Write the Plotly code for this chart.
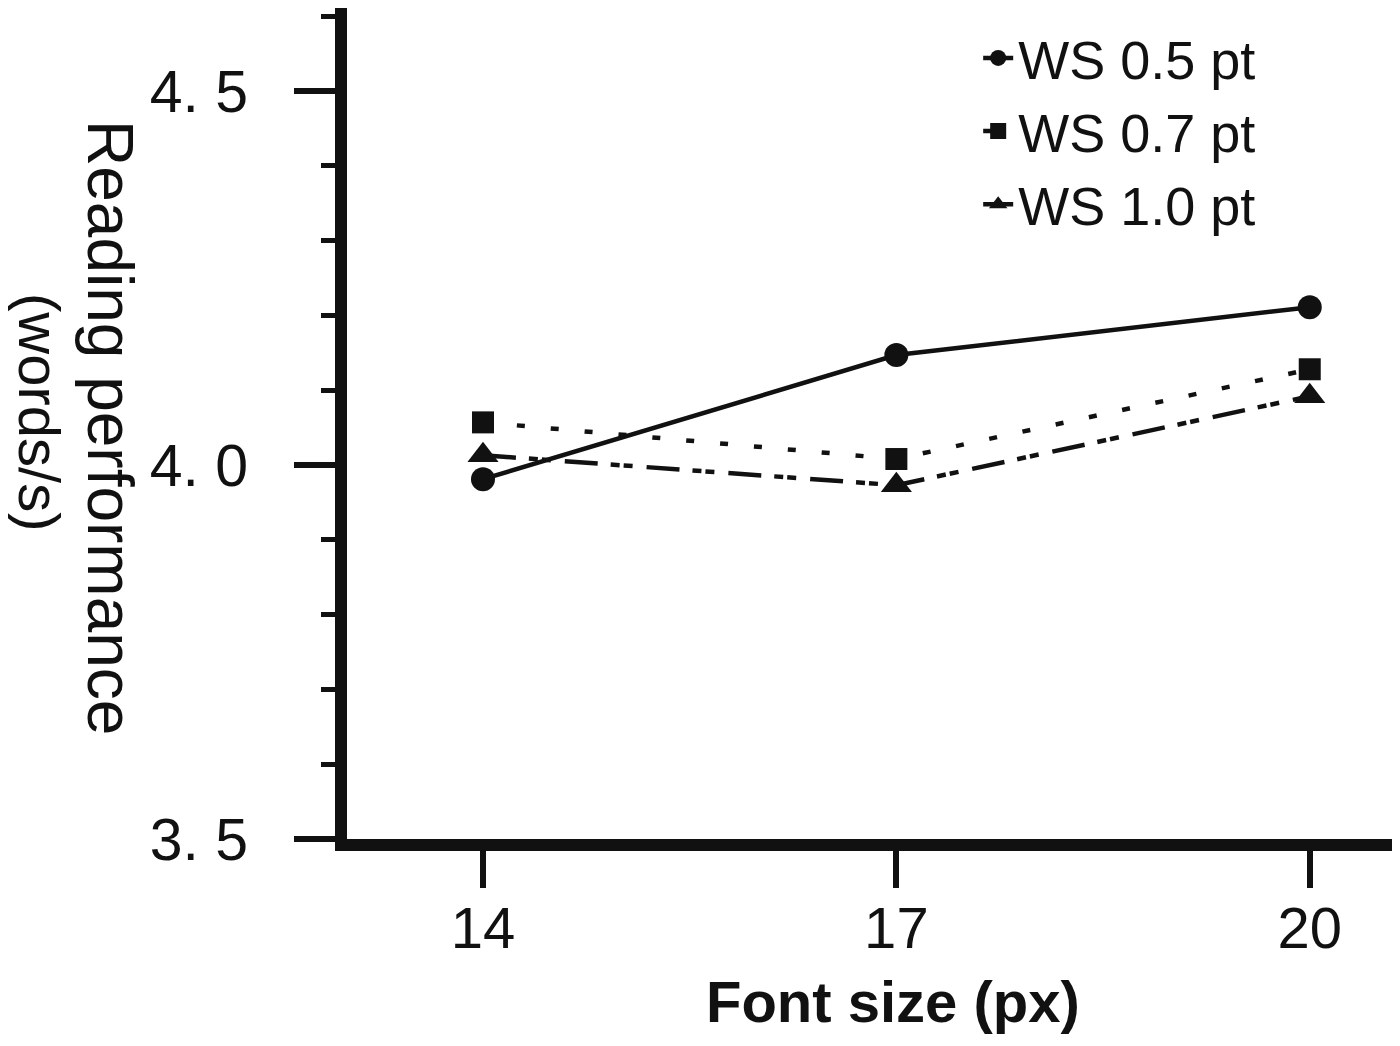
import plotly.graph_objects as go

font_sizes = [14, 17, 20]
ws05 = [3.981, 4.147, 4.211]
ws07 = [4.057, 4.008, 4.128]
ws10 = [4.013, 3.973, 4.092]
series_names = ["WS 0.5 pt", "WS 0.7 pt", "WS 1.0 pt"]
y_tickvals = [3.5, 4.0, 4.5]
y_ticktext = ["3. 5", "4. 0", "4. 5"]
x_tickvals = [14, 17, 20]
x_ticktext = ["14", "17", "20"]

FONT = "Liberation Sans, Arial, Helvetica, sans-serif"
INK = "#111111"

fig = go.Figure()
styles = [
    dict(dash="solid", symbol="circle", size=24),
    dict(dash="8px,26px", symbol="square", size=22),
    dict(dash="33px,13px,9px,4px,9px,14px", symbol="triangle-up", size=27),
]
for name, vals, st in zip(series_names, [ws05, ws07, ws10], styles):
    fig.add_trace(go.Scatter(
        x=font_sizes, y=vals, name=name, mode="lines+markers",
        line=dict(color=INK, width=4.5, dash=st["dash"]),
        marker=dict(symbol=st["symbol"], size=st["size"], color=INK,
                    line=dict(width=0)),
    ))

fig.update_layout(
    width=1384, height=1030,
    margin=dict(l=339, r=0, t=0, b=199),
    paper_bgcolor="white", plot_bgcolor="white",
    font=dict(family=FONT, color=INK),
    showlegend=True,
    legend=dict(
        x=0.604, y=0.99, xanchor="left", yanchor="top",
        font=dict(family=FONT, size=54, color=INK),
        bgcolor="rgba(0,0,0,0)", borderwidth=0,
        tracegroupgap=0, itemwidth=30,
    ),
    xaxis=dict(
        range=[13.013, 20.597],
        tickmode="array", tickvals=x_tickvals, ticktext=x_ticktext,
        showline=True, linewidth=12, linecolor=INK,
        ticks="outside", ticklen=37, tickwidth=6, tickcolor=INK,
        tickfont=dict(family=FONT, size=58, color=INK),
        ticklabelstandoff=-10,
        showgrid=False, zeroline=False,
    ),
    yaxis=dict(
        range=[3.5, 4.611],
        tickmode="array", tickvals=y_tickvals, ticktext=y_ticktext,
        showline=True, linewidth=12, linecolor=INK,
        ticks="outside", ticklen=41, tickwidth=6, tickcolor=INK,
        tickfont=dict(family=FONT, size=59, color=INK),
        ticklabelstandoff=34,
        minor=dict(ticks="outside", ticklen=14, tickwidth=5, tickcolor=INK,
                   tick0=3.5, dtick=0.1, showgrid=False),
        showgrid=False, zeroline=False,
    ),
    annotations=[
        dict(text="<b>Font size (px)</b>", xref="paper", yref="paper",
             x=0.5225, y=-0.196, xanchor="center", yanchor="middle",
             showarrow=False, font=dict(family=FONT, size=58, color=INK)),
        dict(text="Reading performance", xref="paper", yref="paper",
             x=-0.2268, y=0.4946, xanchor="center", yanchor="middle",
             textangle=90, showarrow=False,
             font=dict(family=FONT, size=64, color=INK)),
        dict(text="(words/s)", xref="paper", yref="paper",
             x=-0.2938, y=0.5138, xanchor="center", yanchor="middle",
             textangle=90, showarrow=False,
             font=dict(family=FONT, size=58, color=INK)),
    ],
)

fig.write_html("out.html")
